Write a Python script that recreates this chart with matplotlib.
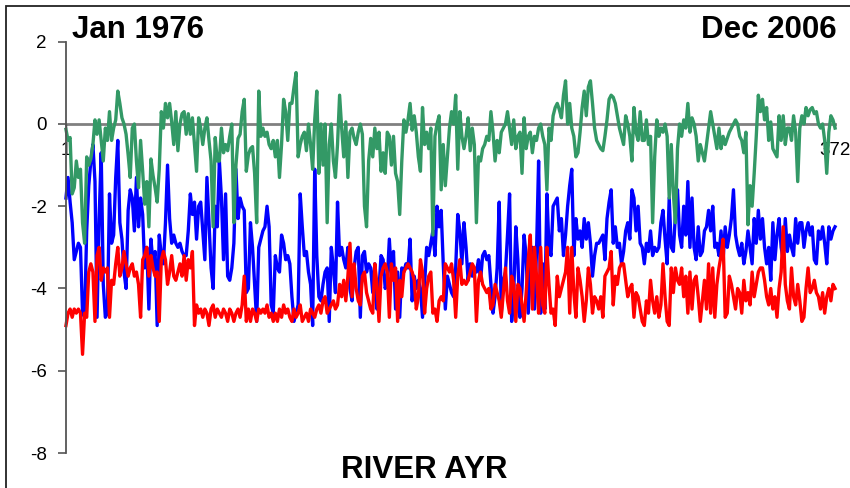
import numpy as np
import matplotlib.pyplot as plt
from matplotlib.patches import Rectangle

# monthly values, Jan 1976 .. Dec 2006 (372 months)
green = [
    # months 1-74
    -0.13, -0.4, -0.33, -1.7, -1.55, -0.9, -1.3, -1.1, -2.4, -2.9,
    -0.8, -1.0, -0.85, -0.5, 0.1, -0.25, 0.1, -0.4, -0.9, -0.1,
    -0.4, 0.3, -0.4, -0.1, 0.1, 0.8, 0.5, 0.15, 0.0, -0.25,
    -0.75, -1.3, -0.1, 0.0, -0.9, -1.55, -0.4, -1.15, -1.95, -1.4,
    -2.5, -0.85, -1.25, -1.55, -1.9, -1.1, 0.3, -0.1, 0.5, 0.15,
    0.5, 0.05, -0.5, 0.3, -0.65, 0.0, 0.25, 0.3, -0.25, 0.25,
    -0.25, 0.15, -0.5, -1.15, 0.15, -0.1, -0.5, -0.1, 0.15, -0.4,
    -0.9, -2.5, -0.33, -0.9,
    # months 75-148
    -0.9, -0.1, -0.7, -0.5, -0.65, -0.3, 0.0, -2.4, -1.0, -0.35,
    -0.25, 0.3, 0.6, -1.15, -0.75, -0.6, -0.55, -1.2, -2.4, 0.8,
    -0.3, -0.1, -0.3, -0.2, -0.5, -0.6, -0.4, -0.8, -0.4, -1.3,
    -0.5, 0.6, 0.3, -0.4, 0.5, 0.5, 0.9, 1.25, -0.8, -0.5,
    -0.3, -0.2, -0.65, 0.0, -0.5, -1.1, 0.1, 0.8, -1.2, 0.0,
    -1.0, 0.0, -2.4, -0.5, 0.0, -0.9, -1.3, -0.5, 0.7, -0.1,
    -0.8, 0.05, -1.3, -0.2, -0.1, -0.35, -0.5, -0.2, 0.0, -0.25,
    -2.0, -2.5, -0.9, -0.35,
    # months 149-222
    -0.8, -0.1, -0.6, -0.2, -1.15, -0.7, -1.2, -0.2, -0.3, -1.0,
    -0.3, -1.2, -1.4, -2.2, -0.9, 0.1, -0.2, 0.1, 0.5, -0.15,
    0.2, -0.2, -0.8, -1.15, 0.4, -0.5, -0.2, -0.6, -0.1, -2.7,
    -0.3, 0.0, 0.2, -1.6, -0.5, -1.5, -0.8, -0.1, 0.3, 0.0,
    0.7, -1.1, 0.3, -0.3, -0.6, -0.3, 0.15, -0.65, -0.1, -0.5,
    -2.4, -0.8, -0.9, -0.6, -0.5, -0.3, -0.4, 0.3, -0.2, -0.9,
    -0.4, -0.7, -0.2, -0.1, 0.0, 0.3, -0.1, -0.5, 0.1, -0.6,
    -0.3, -0.2, -1.2, 0.15,
    # months 223-297
    -0.6, -0.3, -0.2, -0.7, -0.3, -0.4, -0.1, 0.0, -0.3, -0.5,
    -1.6, -0.1, -0.4, 0.2, 0.4, 0.5, 0.35, 0.15, 0.7, 1.05,
    0.0, 0.5, -0.1, -0.3, -0.8, -0.7, -0.2, 0.4, 0.8, 0.2,
    0.9, 1.05, 0.5, -0.1, -0.4, -0.5, -0.6, -0.65, -0.3, 0.1,
    0.6, 0.7, 0.65, 0.5, 0.2, -0.1, -0.3, -0.5, 0.2, 0.0,
    -0.3, -0.9, 0.4, -0.2, -0.4, 0.3, -0.4, -0.4, 0.1, -0.5,
    -0.3, -2.4, -0.8, 0.1, -0.3, -0.1, -0.2, 0.0, -0.3, -1.8,
    -0.5, -1.7, -2.4, -0.6, 0.0,
    # months 298-372
    -0.3, 0.1, -0.1, 0.5, -0.2, 0.15, 0.0, -0.3, -0.9, -0.5,
    -0.7, -0.9, -0.5, -0.1, 0.3, 0.0, -0.3, -0.6, -0.1, -0.6,
    -0.3, -0.5, -0.35, -0.2, -0.1, 0.0, 0.1, 0.0, -0.3, -0.4,
    -0.7, -0.2, -2.45, -1.5, -2.0, -1.2, -0.3, 0.7, 0.3, 0.6,
    0.1, 0.4, -0.4, 0.05, -0.6, -0.7, -0.8, 0.2, -0.4, 0.2,
    -0.5, -0.1, -0.1, -0.4, 0.2, -0.2, -1.4, -0.1, 0.2, 0.0,
    0.4, 0.2, 0.35, 0.4, 0.25, 0.3, 0.0, -0.1, 0.0, -0.4,
    -1.2, -0.2, 0.2, 0.1, -0.1,
]

blue = [
    # months 1-74
    -1.8, -1.3, -1.9, -2.4, -3.3, -3.1, -2.9, -3.0, -4.6, -4.7,
    -2.6, -1.5, -0.9, -0.5, -1.4, -4.7, -2.3, -0.7, -3.9, -4.7,
    -4.6, -1.7, -2.9, -2.7, -1.3, -0.4, -2.4, -2.8, -3.6, -4.0,
    -2.1, -1.6, -1.8, -2.6, -1.3, -2.5, -1.8, -2.2, -3.5, -3.0,
    -4.5, -2.8, -3.4, -3.1, -4.9, -2.7, -3.2, -3.4, -2.4, -1.0,
    -2.3, -2.9, -2.7, -2.9, -3.0, -2.9, -3.1, -3.2, -3.2, -2.6,
    -1.7, -2.2, -1.9, -2.8, -2.0, -1.9, -2.6, -3.3, -1.3, -2.4,
    -3.5, -4.0, -2.0, -2.5,
    # months 75-148
    -0.9, -1.8, -3.3, -1.7, -3.7, -3.8, -3.5, -2.9, -1.1, -2.3,
    -1.8, -2.0, -2.1, -4.1, -4.0, -2.4, -3.0, -3.9, -4.8, -3.0,
    -2.8, -2.6, -2.5, -2.0, -2.5, -4.4, -4.6, -3.2, -3.5, -3.6,
    -2.7, -2.9, -3.3, -3.2, -3.4, -4.2, -4.8, -4.6, -4.4, -1.7,
    -2.5, -3.2, -3.1, -3.6, -3.9, -4.9, -1.1, -3.2, -4.2, -4.3,
    -3.9, -3.6, -3.5, -4.8, -3.0, -3.5, -4.1, -1.9, -3.2, -3.0,
    -3.3, -3.5, -3.0, -4.0, -4.3, -3.5, -3.1, -3.0, -4.7, -3.2,
    -3.1, -3.6, -3.4, -3.5,
    # months 149-222
    -4.1, -3.4, -4.5, -4.0, -3.2, -3.3, -4.0, -3.8, -2.8, -3.7,
    -3.1, -4.5, -3.6, -4.7, -3.5, -3.6, -3.4, -3.5, -2.8, -4.3,
    -3.7, -4.0, -3.8, -4.0, -4.7, -3.9, -3.0, -3.2, -2.9, -2.6,
    -3.2, -2.0, -2.5, -2.1, -3.4, -4.5, -3.7, -3.9, -4.1, -4.2,
    -3.5, -2.2, -2.6, -3.4, -2.4, -3.0, -3.8, -3.4, -3.7, -3.5,
    -3.6, -3.3, -3.8, -3.2, -3.1, -3.3, -3.2, -3.9, -4.6, -4.2,
    -3.5, -1.9, -4.6, -3.8, -3.6, -2.7, -1.7, -4.8, -4.1, -2.5,
    -3.3, -4.7, -4.0, -2.7,
    # months 223-297
    -3.2, -4.6, -3.6, -3.0, -4.5, -3.1, -0.9, -4.6, -3.4, -4.5,
    -1.7, -3.0, -3.2, -2.0, -1.9, -1.8, -2.6, -2.3, -3.2, -2.7,
    -2.0, -1.5, -1.1, -3.2, -2.3, -2.8, -2.6, -3.0, -2.3, -2.8,
    -2.4, -2.9, -3.7, -3.2, -2.9, -2.9, -2.8, -2.7, -3.3, -2.3,
    -1.9, -1.6, -2.9, -2.5, -3.0, -2.9, -3.4, -3.1, -2.6, -2.4,
    -2.8, -1.6, -1.8, -2.6, -2.0, -2.9, -3.0, -3.4, -2.9, -3.1,
    -2.6, -3.2, -3.0, -3.1, -3.0, -2.4, -2.1, -2.8, -3.4, -1.8,
    -3.0, -3.1, -2.2, -1.6, -2.7,
    # months 298-372
    -3.0, -2.0, -2.7, -1.4, -3.0, -1.8, -3.0, -3.3, -2.5, -3.2,
    -3.1, -2.6, -2.5, -2.1, -2.6, -2.0, -3.0, -2.9, -3.2, -2.6,
    -3.3, -2.5, -3.0, -2.7, -2.3, -1.6, -2.7, -3.0, -3.2, -2.9,
    -3.4, -3.1, -2.6, -3.0, -3.4, -2.3, -2.9, -2.1, -2.8, -2.3,
    -3.0, -3.4, -3.0, -3.8, -2.4, -3.3, -2.7, -2.3, -3.0, -3.3,
    -2.3, -3.1, -2.7, -3.0, -3.2, -2.3, -2.9, -2.4, -2.4, -3.0,
    -2.6, -2.4, -2.7, -2.5, -3.3, -3.4, -2.6, -2.8, -2.5, -2.9,
    -3.4, -2.5, -2.8, -2.6, -2.5,
]

red = [
    # months 1-74
    -4.9, -4.6, -4.5, -4.7, -4.5, -4.6, -4.5, -4.6, -5.6, -4.6,
    -4.7, -3.6, -3.4, -3.6, -4.8, -3.2, -3.0, -3.8, -3.5, -3.6,
    -3.5, -4.7, -3.8, -3.9, -3.4, -3.0, -3.7, -3.5, -3.1, -3.4,
    -3.7, -3.5, -3.4, -3.7, -3.6, -3.9, -4.7, -3.3, -3.2, -3.0,
    -3.7, -3.2, -3.5, -3.7, -3.6, -4.8, -3.3, -3.1, -3.3, -3.9,
    -3.6, -3.2, -3.7, -3.8, -3.6, -3.4, -3.7, -3.2, -3.8, -3.3,
    -3.5, -3.1, -4.9, -4.4, -4.6, -4.5, -4.7, -4.5, -4.6, -4.9,
    -4.5, -4.4, -4.7, -4.5,
    # months 75-148
    -4.6, -4.7, -4.5, -4.6, -4.8, -4.5, -4.6, -4.8, -4.6, -4.5,
    -4.7, -4.4, -3.7, -4.8, -4.5, -4.8, -4.5, -4.6, -4.8, -4.5,
    -4.6, -4.5, -4.6, -4.4, -4.7, -4.6, -4.8, -4.6, -4.8, -4.5,
    -4.7, -4.4, -4.6, -4.5, -4.7, -4.8, -4.5, -4.7, -4.6, -4.4,
    -4.8, -4.7, -4.6, -4.8, -4.5, -4.6, -4.7, -4.5, -4.4, -4.6,
    -4.3, -4.2, -4.6, -4.5, -4.4, -4.3, -4.5, -4.4, -3.9, -4.2,
    -3.8, -4.3, -3.7, -2.9, -4.2, -3.4, -4.0, -4.3, -4.4, -3.7,
    -3.6, -4.1, -4.3, -4.5,
    # months 149-222
    -4.6, -3.4, -3.9, -4.8, -3.7, -3.5, -3.4, -3.6, -4.7, -3.4,
    -3.8, -3.5, -4.8, -3.8, -4.2, -3.6, -3.5, -3.4, -3.5, -3.6,
    -3.8, -4.5, -4.2, -3.3, -3.6, -4.6, -4.0, -3.7, -3.6, -4.6,
    -4.5, -4.8, -4.3, -4.2, -4.3, -3.4, -3.5, -3.6, -3.4, -3.8,
    -4.7, -3.7, -3.3, -3.9, -3.8, -3.9, -3.8, -3.6, -3.4, -3.5,
    -4.8, -3.8, -3.6, -3.9, -4.0, -4.1, -4.0, -4.5, -4.4, -3.9,
    -4.1, -4.3, -4.7, -4.1, -3.5, -4.3, -4.6, -3.7, -3.9, -4.8,
    -3.9, -4.0, -4.4, -4.8,
    # months 223-297
    -4.1, -3.3, -2.7, -4.5, -3.0, -3.7, -4.6, -3.0, -4.4, -4.6,
    -3.0, -3.9, -4.6, -4.5, -4.9, -3.7, -4.2, -4.0, -3.8, -3.6,
    -3.0, -4.6, -3.0, -4.1, -4.7, -3.5, -3.8, -4.2, -4.8, -4.3,
    -3.5, -3.9, -4.6, -4.2, -4.3, -4.5, -4.2, -4.7, -3.7, -3.6,
    -3.5, -3.1, -4.4, -3.7, -3.9, -3.5, -3.4, -3.4, -3.8, -4.2,
    -4.0, -3.9, -4.7, -4.1, -4.2, -4.5, -4.8, -4.9, -4.3, -4.6,
    -3.8, -4.3, -4.6, -4.2, -4.7, -4.4, -3.4, -4.2, -4.8, -4.9,
    -3.5, -4.1, -3.5, -3.8, -3.9,
    # months 298-372
    -3.5, -4.2, -3.7, -4.6, -3.6, -4.5, -3.8, -3.7, -4.2, -4.8,
    -4.3, -3.8, -4.5, -3.4, -4.6, -3.5, -4.7, -3.9, -3.5, -3.2,
    -2.8, -4.7, -4.6, -3.7, -3.9, -4.2, -4.5, -4.0, -4.1, -4.6,
    -3.8, -4.3, -4.1, -4.4, -3.6, -4.2, -3.9, -3.6, -3.5, -3.5,
    -3.8, -4.2, -4.4, -4.0, -4.5, -4.2, -4.7, -4.0, -3.6, -2.5,
    -3.9, -4.3, -4.5, -3.5, -4.2, -4.4, -3.9, -4.3, -4.8, -4.7,
    -4.0, -3.5, -4.1, -4.0, -3.8, -4.1, -4.2, -4.5, -4.1, -4.6,
    -4.2, -4.0, -4.3, -3.9, -4.0,
]

y_ticks = [-8, -6, -4, -2, 0, 2]
x_ticks = [1, 372]
first_label = 'Jan 1976'
last_label = 'Dec 2006'
title = 'RIVER AYR'

plt.rcParams['font.family'] = ['Liberation Sans', 'DejaVu Sans']


def plot_chart():
    months = np.arange(1, len(green) + 1)
    assert len(green) == len(blue) == len(red) == 372

    fig = plt.figure(figsize=(8.5, 4.88), dpi=100)

    # thin frame round the whole chart (right and bottom edges are cut off)
    fig.patches.append(Rectangle((6 / 850, -0.05), 1.2, 1.05 - 6 / 488,
                                 transform=fig.transFigure, fill=False,
                                 edgecolor='#222222', linewidth=1.3))

    ax = fig.add_axes([0.0776, 0.0717, 0.9048, 0.8428])

    ax.plot(months, blue, color='#0000FF', linewidth=2.4, clip_on=False)
    ax.plot(months, red, color='#FF0000', linewidth=2.4, clip_on=False)
    ax.plot(months, green, color='#339966', linewidth=2.4, clip_on=False)

    ax.set_xlim(1, 372)
    ax.set_ylim(-8, 2)

    ax.spines['top'].set_visible(False)
    ax.spines['right'].set_visible(False)
    ax.spines['left'].set_color('#555555')
    ax.spines['left'].set_linewidth(1.3)
    ax.spines['bottom'].set_position(('data', 0))
    ax.spines['bottom'].set_color('#808080')
    ax.spines['bottom'].set_linewidth(2)
    ax.spines['bottom'].set_zorder(1)

    ax.set_yticks(y_ticks)
    ax.set_yticklabels([str(v) for v in y_ticks])
    ax.tick_params(axis='y', direction='out', length=6, width=1.2,
                   color='#555555', pad=8, labelsize=13.5)

    ax.set_xticks(x_ticks)
    ax.set_xticklabels([str(v) for v in x_ticks])
    ax.tick_params(axis='x', direction='out', length=3, width=1,
                   color='#333333', pad=10, labelsize=13.5)

    fig.text(72 / 850, 1 - 38 / 488, first_label, fontsize=22.5,
             fontweight='bold', ha='left', va='baseline')
    fig.text(837 / 850, 1 - 38 / 488, last_label, fontsize=22.5,
             fontweight='bold', ha='right', va='baseline')
    fig.text(424 / 850, 1 - 478 / 488, title, fontsize=22.5,
             fontweight='bold', ha='center', va='baseline')

    fig.savefig('out.png', dpi=100)


if __name__ == '__main__':
    plot_chart()
